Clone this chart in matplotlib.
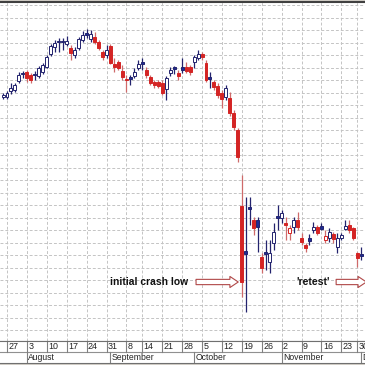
import numpy as np
import pandas as pd
import matplotlib
matplotlib.use('Agg')
import matplotlib.pyplot as plt

# ---------------- data ----------------
holidays = ['1987-09-07', '1987-11-26']
dates = pd.bdate_range('1987-07-24', '1987-12-01')
dates = dates[~dates.isin(pd.to_datetime(holidays))]

opens = [2432, 2432, 2456, 2460, 2496, 2528, 2532, 2520, 2526, 2516,
         2532, 2552, 2604, 2632, 2656, 2658, 2644, 2628, 2600, 2628,
         2660, 2688, 2664, 2672, 2652, 2612, 2600, 2636, 2564, 2572,
         2536, 2504, 2512, 2516, 2548, 2574, 2540, 2512, 2492, 2492,
         2488, 2464, 2528, 2552, 2528, 2552, 2552, 2552, 2572, 2588,
         2604, 2568, 2512, 2492, 2476, 2448, 2432, 2428, 2368, 2300,
         1996, 1816, 1992, 1940, 1940, 1792, 1812, 1772, 1848, 1956,
         1948, 1928, 1888, 1912, 1940, 1868, 1840, 1868, 1900, 1912,
         1916, 1860, 1868, 1884, 1832, 1868, 1904, 1920, 1908, 1808,
         1804]
highs = [2448, 2456, 2488, 2488, 2532, 2536, 2540, 2528, 2536, 2556,
         2568, 2600, 2644, 2660, 2668, 2668, 2676, 2640, 2632, 2672,
         2696, 2704, 2700, 2692, 2660, 2620, 2640, 2644, 2588, 2580,
         2560, 2520, 2520, 2548, 2580, 2588, 2552, 2520, 2500, 2500,
         2500, 2516, 2552, 2556, 2540, 2588, 2572, 2560, 2600, 2620,
         2612, 2580, 2532, 2500, 2488, 2460, 2480, 2452, 2380, 2308,
         2120, 2032, 2032, 1952, 1952, 1808, 1860, 1860, 1928, 2000,
         1980, 1952, 1920, 1952, 1972, 1888, 1848, 1884, 1932, 1920,
         1928, 1900, 1908, 1892, 1888, 1888, 1940, 1940, 1912, 1812,
         1832]
lows = [2424, 2424, 2444, 2452, 2488, 2508, 2492, 2488, 2500, 2508,
        2524, 2548, 2596, 2612, 2612, 2620, 2636, 2580, 2588, 2620,
        2652, 2668, 2652, 2644, 2620, 2580, 2588, 2564, 2532, 2540,
        2500, 2452, 2480, 2508, 2540, 2540, 2508, 2480, 2468, 2468,
        2440, 2420, 2516, 2524, 2500, 2528, 2528, 2520, 2548, 2580,
        2580, 2492, 2468, 2460, 2428, 2388, 2420, 2356, 2300, 2172,
        1632, 1572, 1920, 1880, 1812, 1728, 1740, 1728, 1820, 1900,
        1928, 1860, 1860, 1888, 1900, 1840, 1812, 1840, 1888, 1880,
        1900, 1848, 1852, 1848, 1808, 1860, 1900, 1888, 1860, 1752,
        1780]
closes = [2440, 2448, 2468, 2480, 2520, 2524, 2508, 2500, 2522, 2548,
          2560, 2592, 2636, 2648, 2652, 2654, 2656, 2608, 2620, 2664,
          2680, 2682, 2684, 2652, 2628, 2592, 2620, 2568, 2552, 2548,
          2512, 2500, 2504, 2532, 2564, 2566, 2520, 2488, 2480, 2476,
          2448, 2508, 2540, 2544, 2516, 2540, 2536, 2532, 2592, 2604,
          2592, 2500, 2504, 2472, 2440, 2424, 2468, 2368, 2312, 2192,
          1692, 1804, 1984, 1908, 1912, 1748, 1806, 1808, 1892, 1948,
          1968, 1920, 1908, 1940, 1912, 1852, 1828, 1856, 1912, 1888,
          1904, 1876, 1892, 1864, 1868, 1880, 1916, 1900, 1868, 1788,
          1796]

crash_date = '1987-10-19'
label_crash = 'initial crash low'
label_retest = "'retest'"

# ---------------- styling ----------------
NAVY = '#23236e'
NAVY_FILL = '#1e2c96'
RED = '#d42424'
RED_WICK = '#cf6a6a'
GRID = '#c4c4c4'
FONT = ['Liberation Sans', 'DejaVu Sans']

o = np.array(opens, float)
h = np.array(highs, float)
l = np.array(lows, float)
c = np.array(closes, float)
n = len(c)
x = np.arange(n)
prev = np.concatenate([[c[0]], c[:-1]])
is_red = c < prev
filled = c < o

fig = plt.figure(figsize=(3.65, 3.65), dpi=100)
fig.patch.set_facecolor('#d4d0c8')
W = 365.0
px_per_unit = 3.98
x_lo = 1 - 7 / px_per_unit
x_hi = x_lo + W / px_per_unit

ax = fig.add_axes([0, (365 - 341) / 365, 1, 339 / 365])
ax.set_facecolor('white')
ax.set_xlim(x_lo, x_hi)
ax.set_ylim(1456, 2812)

# week / month starts
week_idx = [i for i in range(1, n) if dates[i].isocalendar()[1] != dates[i - 1].isocalendar()[1]]
month_idx = [i for i in range(1, n) if dates[i].month != dates[i - 1].month]

# grid
for yv in np.arange(1500, 2801, 50):
    ax.axhline(yv, color=GRID, lw=0.7, ls=(0, (3, 2)), zorder=0)
for wi in week_idx:
    ax.axvline(wi, color=GRID, lw=0.7, ls=(0, (3, 2)), zorder=0)

# candles
wick_cols = [RED_WICK if r else NAVY for r in is_red]
ax.vlines(x, l, h, colors=wick_cols, lw=0.9, zorder=2)
bw = 0.75
for i in range(n):
    edge = RED if is_red[i] else NAVY
    bottom = min(o[i], c[i])
    height = max(abs(c[i] - o[i]), 3)
    if filled[i]:
        face = RED if is_red[i] else NAVY_FILL
    else:
        face = 'white'
    ax.bar(x[i], height, bottom=bottom, width=bw, color=face,
           edgecolor=edge, linewidth=0.7, zorder=3)

for s in ['left', 'right']:
    ax.spines[s].set_visible(False)
ax.spines['top'].set_color('#404040')
ax.spines['top'].set_linewidth(1.5)
ax.spines['bottom'].set_color('#707070')
ax.spines['bottom'].set_linewidth(0.8)
ax.set_xticks([])
ax.set_yticks([])

# annotations
ci = int(np.where(dates == pd.Timestamp(crash_date))[0][0])
yc = c[ci]
ax.text(ci - 13.5, yc, label_crash, ha='right', va='center', fontsize=7.4,
        fontweight='bold', family=FONT, color='#111111', zorder=5)
astyle = 'simple,head_length=0.6,head_width=0.8,tail_width=0.38'
ax.annotate('', xy=(ci - 0.9, yc), xytext=(ci - 11.5, yc),
            arrowprops=dict(arrowstyle=astyle, fc='white', ec='#b04848', lw=0.8,
                            shrinkA=0, shrinkB=0, mutation_scale=10), zorder=5)
ax.text(ci + 18, yc, label_retest, ha='center', va='center', fontsize=7.6,
        fontweight='bold', family=FONT, color='#111111', zorder=5)
ax.annotate('', xy=(ci + 31.3, yc), xytext=(ci + 23.7, yc),
            arrowprops=dict(arrowstyle=astyle, fc='white', ec='#b04848', lw=0.8,
                            shrinkA=0, shrinkB=0, mutation_scale=10),
            annotation_clip=False, zorder=5)

# label rows
lab = fig.add_axes([0, 2 / 365, 1, 22 / 365])
lab.set_facecolor('white')
lab.set_xlim(x_lo, x_hi)
lab.set_ylim(0, 2)
lab.set_xticks([])
lab.set_yticks([])
for s in ['left', 'right']:
    lab.spines[s].set_visible(False)
for s in ['top', 'bottom']:
    lab.spines[s].set_color('#707070')
    lab.spines[s].set_linewidth(0.8)
lab.axhline(1, color='#909090', lw=0.8)
for wi in week_idx:
    lab.plot([wi, wi], [1, 2], color='#808080', lw=0.8)
    lab.text(wi + 0.35, 1.5, str(dates[wi].day), ha='left', va='center',
             fontsize=6.4, family=FONT, color='#222222', clip_on=True)
for mi in month_idx:
    lab.plot([mi, mi], [0, 1], color='#808080', lw=0.8)
    lab.text(mi + 0.3, 0.5, dates[mi].strftime('%B'), ha='left', va='center',
             fontsize=6.2, family=FONT, color='#222222', clip_on=True)

fig.savefig('out.png', dpi=100, facecolor=fig.get_facecolor())
